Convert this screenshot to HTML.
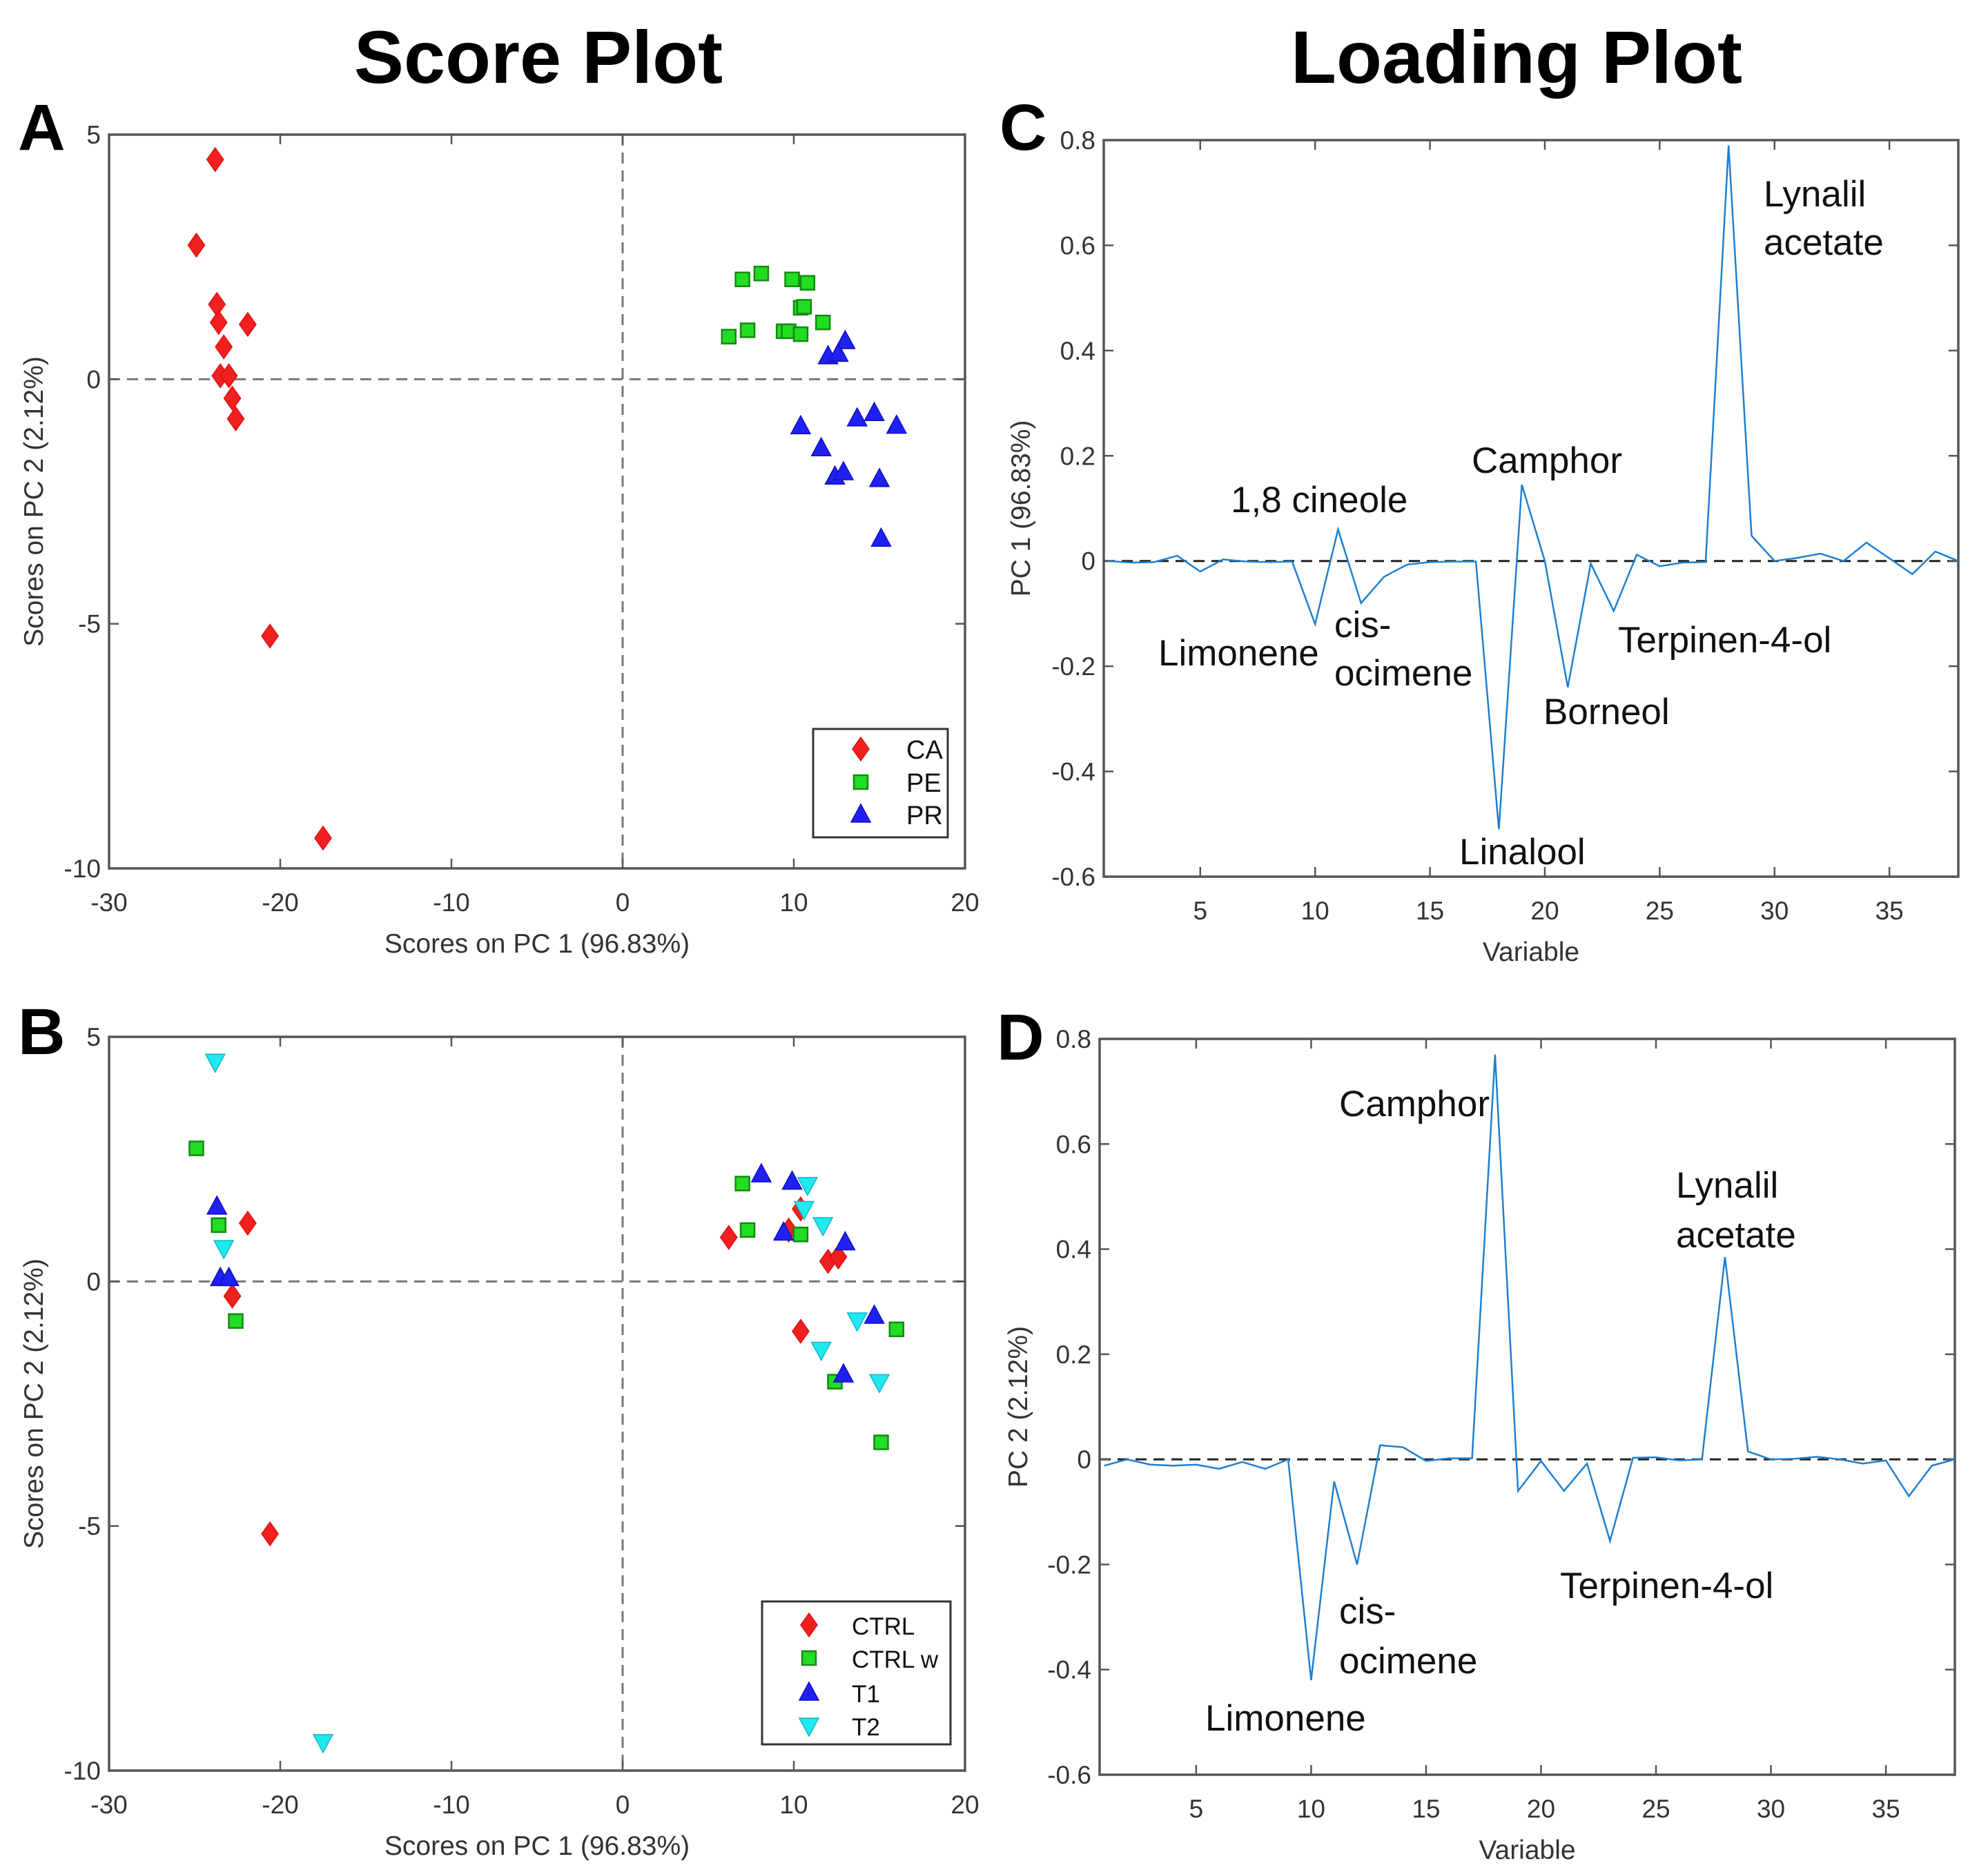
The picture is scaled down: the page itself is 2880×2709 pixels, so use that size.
<!DOCTYPE html>
<html><head><meta charset="utf-8">
<style>
html,body{margin:0;padding:0;background:#fff;}
svg{display:block;}
text{font-family:"Liberation Sans",sans-serif;}
</style></head>
<body>
<svg id="fig" width="2880" height="2709" viewBox="0 0 2880 2709" xmlns="http://www.w3.org/2000/svg">
<text x="780" y="120" font-size="108" font-weight="bold" text-anchor="middle" fill="#000">Score Plot</text>
<text x="2197" y="120" font-size="108" font-weight="bold" text-anchor="middle" fill="#000">Loading Plot</text>
<text x="26" y="217" font-size="95" font-weight="bold" fill="#000">A</text>
<text x="1448" y="217" font-size="95" font-weight="bold" fill="#000">C</text>
<text x="26" y="1527" font-size="95" font-weight="bold" fill="#000">B</text>
<text x="1444" y="1535" font-size="95" font-weight="bold" fill="#000">D</text>
</svg>
<script>
// ---- Panel A data ----
const caX=[-23.8,-24.9,-23.7,-23.6,-23.3,-21.9,-23.5,-23.0,-22.8,-22.6,-20.6,-17.5];
const caY=[4.49,2.74,1.53,1.16,0.66,1.12,0.07,0.07,-0.39,-0.81,-5.25,-9.38];
const peX=[7.0,8.1,9.9,10.8,10.4,10.6,11.7,6.2,7.3,9.4,9.7,10.4];
const peY=[2.04,2.16,2.04,1.97,1.46,1.48,1.16,0.87,1.0,0.98,0.98,0.92];
const prX=[13.0,12.0,12.6,10.4,11.6,13.7,14.7,16.0,12.4,12.9,15.0,15.1];
const prY=[0.78,0.47,0.52,-0.96,-1.41,-0.80,-0.69,-0.95,-1.99,-1.90,-2.04,-3.26];
// ---- Panel B data ----
const ctrlX=[-21.9,-22.8,-20.6,6.2,9.7,10.4,12.0,12.6,10.4];
const ctrlY=[1.19,-0.30,-5.16,0.90,1.05,1.48,0.41,0.50,-1.02];
const ctrlwX=[-24.9,-23.6,-22.6,7.0,7.3,10.4,12.4,16.0,15.1];
const ctrlwY=[2.72,1.15,-0.81,2.00,1.05,0.96,-2.05,-0.98,-3.29];
const t1X=[-23.7,-23.5,-23.0,8.1,9.9,9.4,13.0,12.9,14.7];
const t1Y=[1.53,0.07,0.07,2.19,2.04,1.00,0.80,-1.90,-0.70];
const t2X=[-23.8,-23.3,-17.5,10.8,10.6,11.7,11.6,13.7,15.0];
const t2Y=[4.49,0.68,-9.42,1.97,1.48,1.15,-1.40,-0.80,-2.06];
// ---- Loadings ----
const variables=[1,2,3,4,5,6,7,8,9,10,11,12,13,14,15,16,17,18,19,20,21,22,23,24,25,26,27,28,29,30,31,32,33,34,35,36,37,38];
const pc1Load=[0,-0.003,-0.002,0.01,-0.02,0.003,-0.001,-0.002,-0.001,-0.12,0.06,-0.08,-0.03,-0.007,-0.002,-0.001,-0.001,-0.51,0.145,0.0,-0.24,-0.005,-0.095,0.012,-0.01,-0.003,-0.002,0.79,0.048,0.0,0.006,0.014,0.0,0.035,0.005,-0.025,0.018,0.0];
const pc2Load=[-0.012,0,-0.01,-0.012,-0.01,-0.018,-0.005,-0.018,0,-0.42,-0.042,-0.2,0.027,0.023,-0.003,0.002,0.002,0.77,-0.06,-0.003,-0.06,-0.008,-0.155,0.003,0.004,-0.002,0,0.385,0.015,0,0.001,0.005,0,-0.008,-0.002,-0.07,-0.012,0];
const scoreXTicks=[-30,-20,-10,0,10,20];
const scoreYTicks=[-10,-5,0,5];
const loadXTicks=[5,10,15,20,25,30,35];
const loadYTicks=[-0.6,-0.4,-0.2,0,0.2,0.4,0.6,0.8];

const NS="http://www.w3.org/2000/svg";
const svg=document.getElementById('fig');
function mk(tag,attrs,parent){const e=document.createElementNS(NS,tag);for(const k in attrs)e.setAttribute(k,attrs[k]);(parent||svg).appendChild(e);return e;}

function axes(box,xr,yr,xt,yt,xlab,ylab,name,xfmt,yfmt,zeroColor){
  const g=mk('g',{});
  
  
  const sx=v=>box.x0+(v-xr[0])/(xr[1]-xr[0])*(box.x1-box.x0);
  const sy=v=>box.y1-(v-yr[0])/(yr[1]-yr[0])*(box.y1-box.y0);
  const zx=mk('line',{x1:box.x0,x2:box.x1,y1:sy(0),y2:sy(0),stroke:zeroColor,'stroke-width':3,'stroke-dasharray':'16,10'},g);
  
  
  if(xr[0]<0){const zy=mk('line',{x1:sx(0),x2:sx(0),y1:box.y0,y2:box.y1,stroke:zeroColor,'stroke-width':3,'stroke-dasharray':'16,10'},g);
    
    }
  xt.forEach(v=>{const x=sx(v);
    mk('line',{x1:x,x2:x,y1:box.y1,y2:box.y1-14,stroke:'#555','stroke-width':2.5},g);
    mk('line',{x1:x,x2:x,y1:box.y0,y2:box.y0+14,stroke:'#555','stroke-width':2.5},g);
    const t=mk('text',{x:x,y:box.y1+62,'font-size':37,'text-anchor':'middle',fill:'#333'},g);t.textContent=xfmt(v);
    
    });
  yt.forEach(v=>{const y=sy(v);
    mk('line',{x1:box.x0,x2:box.x0+14,y1:y,y2:y,stroke:'#555','stroke-width':2.5},g);
    mk('line',{x1:box.x1,x2:box.x1-14,y1:y,y2:y,stroke:'#555','stroke-width':2.5},g);
    const t=mk('text',{x:box.x0-12,y:y+13,'font-size':37,'text-anchor':'end',fill:'#333'},g);t.textContent=yfmt(v);
    
    });
  mk('rect',{x:box.x0,y:box.y0,width:box.x1-box.x0,height:box.y1-box.y0,fill:'none',stroke:'#555','stroke-width':3.5},g);
  const xl=mk('text',{x:(box.x0+box.x1)/2,y:box.y1+122,'font-size':39,'text-anchor':'middle',fill:'#333'},g);xl.textContent=xlab;
  
  
  const cy=(box.y0+box.y1)/2;
  const yl=mk('text',{x:box.lx,y:cy,'font-size':39,'text-anchor':'middle',fill:'#333',transform:`rotate(-90 ${box.lx} ${cy})`},g);yl.textContent=ylab;
  
  
  return {sx,sy,g};
}
function marker(type,x,y,parent,scale){
  const s=scale||1;let e;
  if(type==='diamond')e=mk('polygon',{points:`${x},${y-17*s} ${x+12*s},${y} ${x},${y+17*s} ${x-12*s},${y}`,fill:'#f02020',stroke:'#e01010','stroke-width':1.5},parent);
  else if(type==='square')e=mk('rect',{x:x-10*s,y:y-10*s,width:20*s,height:20*s,fill:'#22dd22',stroke:'#138a13','stroke-width':2.5},parent);
  else if(type==='up')e=mk('polygon',{points:`${x},${y-15*s} ${x+14*s},${y+11*s} ${x-14*s},${y+11*s}`,fill:'#2020f0',stroke:'#1010c0','stroke-width':1.5},parent);
  else e=mk('polygon',{points:`${x},${y+15*s} ${x+14*s},${y-11*s} ${x-14*s},${y-11*s}`,fill:'#22e8f0',stroke:'#10b8c8','stroke-width':1.5},parent);
  return e;
}
const intf=v=>String(v);
const decf=v=>v===0?'0':v.toFixed(1);

// Panel A
const A=axes({x0:158,x1:1398,y0:195,y1:1258,lx:62},[-30,20],[-10,5],scoreXTicks,scoreYTicks,'Scores on PC 1 (96.83%)','Scores on PC 2 (2.12%)','score-plot-a',intf,intf,'#777');
[[caX,caY,'diamond','ca'],[peX,peY,'square','pe'],[prX,prY,'up','pr']].forEach(([xs,ys,t,n])=>{
  xs.forEach((v,i)=>{const m=marker(t,A.sx(v),A.sy(ys[i]),A.g);
    
    });
});
function legend(g,x0,y0,x1,y1,items,mx,tx,rows,fs){
  const lg=mk('g',{},g);
  
  
  mk('rect',{x:x0,y:y0,width:x1-x0,height:y1-y0,fill:'#fff',stroke:'#333','stroke-width':3},lg);
  items.forEach((it,i)=>{const m=marker(it[0],mx,rows[i],lg);
    
    
    const t=mk('text',{x:tx,y:rows[i]+14,'font-size':fs,fill:'#111'},lg);t.textContent=it[1];
    
    });
}
legend(A.g,1178,1056,1373,1213,[['diamond','CA'],['square','PE'],['up','PR']],1247,1313,[1085,1133,1180],38);

// Panel B
const B=axes({x0:158,x1:1398,y0:1502,y1:2565,lx:62},[-30,20],[-10,5],scoreXTicks,scoreYTicks,'Scores on PC 1 (96.83%)','Scores on PC 2 (2.12%)','score-plot-b',intf,intf,'#777');
[[ctrlX,ctrlY,'diamond','ctrl'],[ctrlwX,ctrlwY,'square','ctrl-w'],[t1X,t1Y,'up','t1'],[t2X,t2Y,'down','t2']].forEach(([xs,ys,t,n])=>{
  xs.forEach((v,i)=>{const m=marker(t,B.sx(v),B.sy(ys[i]),B.g);
    
    });
});
legend(B.g,1104,2320,1377,2527,[['diamond','CTRL'],['square','CTRL w'],['up','T1'],['down','T2']],1172,1234,[2354,2402,2452,2500],35);

// Loading panels
function loadPanel(box,vals,ylab,name,labels){
  const P=axes(box,[0.8,38],[-0.6,0.8],loadXTicks,loadYTicks,'Variable',ylab,name,intf,decf,'#222');
  const pts=variables.map((v,i)=>P.sx(v)+','+P.sy(vals[i])).join(' ');
  const pl=mk('polyline',{points:pts,fill:'none',stroke:'#1f7fd0','stroke-width':2.5},P.g);
  
  
  labels.forEach(([txt,x,y])=>{const t=mk('text',{x:x,y:y,'font-size':53,fill:'#111'},P.g);t.textContent=txt;
    
    });
}
loadPanel({x0:1599,x1:2837,y0:203,y1:1270,lx:1492},pc1Load,'PC 1 (96.83%)','loading-plot-c',[
 ['Lynalil',2555,299],['acetate',2555,369],['Camphor',2132,685],['1,8 cineole',1783,742],['Limonene',1678,964],
 ['cis-',1933,923],['ocimene',1933,993],['Terpinen-4-ol',2344,945],['Borneol',2236,1049],['Linalool',2114,1252]]);
loadPanel({x0:1593,x1:2832,y0:1505,y1:2571,lx:1488},pc2Load,'PC 2 (2.12%)','loading-plot-d',[
 ['Camphor',1940,1617],['Lynalil',2428,1735],['acetate',2428,1807],['Terpinen-4-ol',2260,2315],
 ['cis-',1940,2352],['ocimene',1940,2424],['Limonene',1746,2507]]);
</script>
</body></html>
